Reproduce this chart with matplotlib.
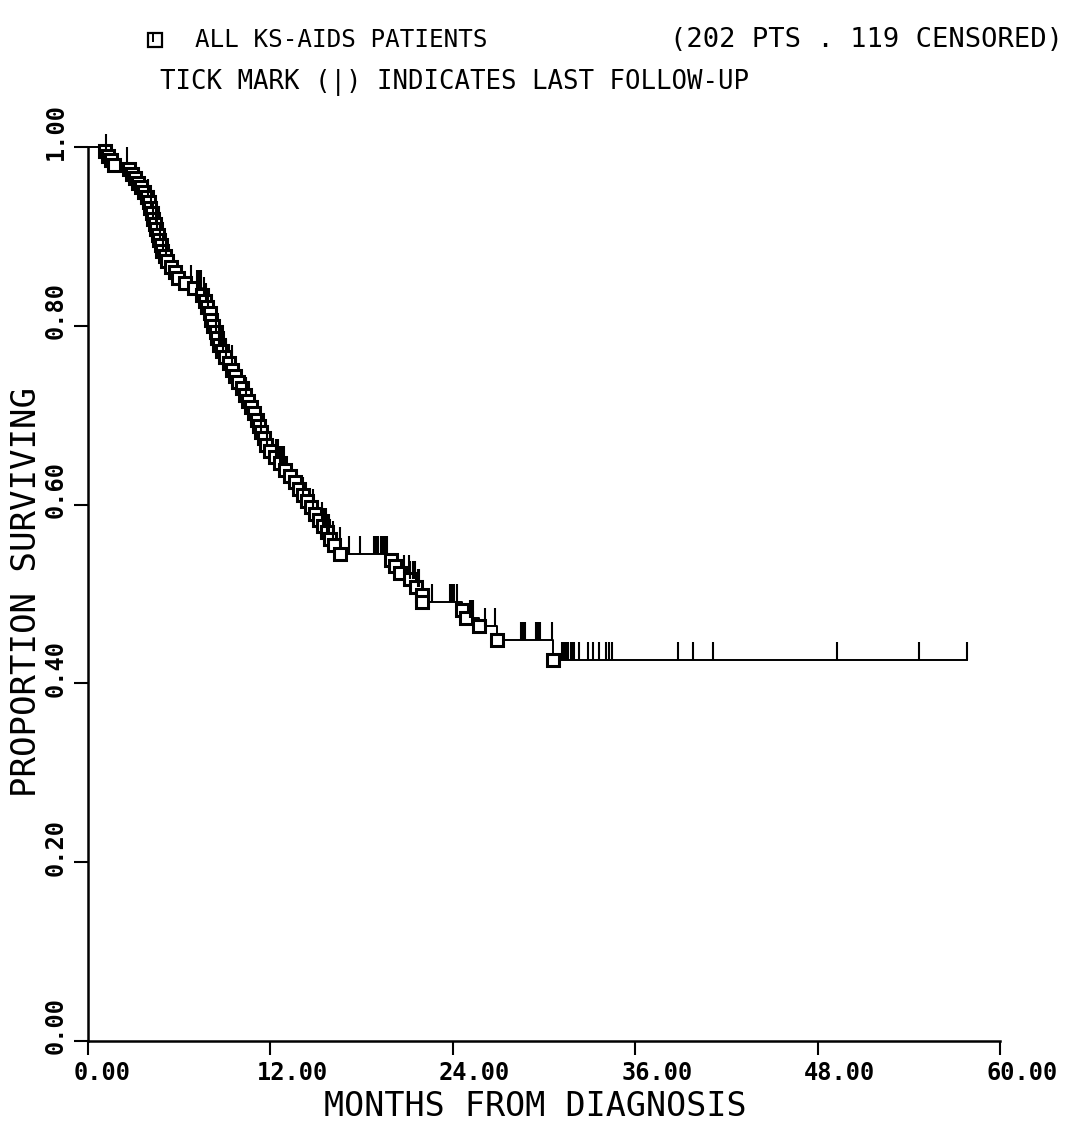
import numpy as np
import matplotlib
matplotlib.use("Agg")
import matplotlib.pyplot as plt
from matplotlib.lines import Line2D
from matplotlib.transforms import ScaledTranslation

# deaths: time (months) and survival just after each drop
death_t = [1.15, 1.3, 1.5, 1.7, 2.7, 2.9,
           3.1, 3.3, 3.5, 3.7, 3.85, 4.0, 4.1, 4.2, 4.3, 4.4, 4.5, 4.6, 4.7, 4.8, 4.9, 5.05, 5.2,
           5.45, 5.7, 5.95, 6.4, 7.0,
           7.5, 7.7, 7.85, 8.0, 8.1, 8.25, 8.4, 8.5, 8.6, 8.8, 9.0,
           9.3, 9.5, 9.7, 9.9, 10.1, 10.3, 10.5, 10.7, 10.9, 11.1, 11.25, 11.4, 11.55, 11.7, 11.95,
           12.3, 12.6, 12.95, 13.3, 13.6, 13.9, 14.15, 14.4, 14.7, 14.95, 15.2, 15.45, 15.7, 15.95, 16.2, 16.6,
           19.95, 20.2, 20.5, 21.2, 21.6, 21.95, 22.0,
           24.6, 24.9, 25.7, 26.9, 30.6]
surv = [0.995, 0.990, 0.985, 0.980, 0.975, 0.970,
        0.965, 0.960, 0.955, 0.950, 0.944, 0.938, 0.932, 0.926, 0.920, 0.914, 0.908, 0.902, 0.896, 0.890, 0.884, 0.878, 0.872,
        0.866, 0.860, 0.854, 0.848, 0.842,
        0.835, 0.828, 0.821, 0.814, 0.807, 0.800, 0.793, 0.786, 0.779, 0.772, 0.765,
        0.758, 0.751, 0.744, 0.737, 0.730, 0.723, 0.716, 0.709, 0.702, 0.695, 0.688, 0.681, 0.674, 0.667, 0.660,
        0.653, 0.646, 0.639, 0.632, 0.625, 0.618, 0.611, 0.604, 0.597, 0.590, 0.583, 0.576, 0.569, 0.562, 0.555, 0.545,
        0.538, 0.531, 0.524, 0.517, 0.508, 0.499, 0.491,
        0.482, 0.473, 0.464, 0.449, 0.426]

# censored (last follow-up) times
cens_t = [1.2, 2.55, 3.95, 4.15, 4.3, 4.45, 4.55, 4.75, 4.95, 5.1, 6.8, 7.2, 7.3, 7.45, 7.6, 7.75, 7.9,
          8.45, 8.65, 8.75, 8.9, 9.1, 9.45, 10.4, 11.4, 11.8, 12.4, 12.5, 12.6, 12.7, 12.8, 12.9,
          14.15, 14.8, 15.4, 15.45, 15.55, 15.65, 15.75, 15.85, 16.1, 16.55, 17.2, 17.9,
          18.8, 18.95, 19.1, 19.25, 19.4, 19.55, 19.7, 20.8, 21.1, 21.2, 21.4, 21.5, 21.7, 21.8,
          22.6, 23.8, 23.9, 24.0, 24.1, 24.3, 25.1, 25.2, 25.35, 26.1, 26.8,
          28.5, 28.6, 28.75, 29.5, 29.6, 29.75, 30.5, 31.2, 31.25, 31.35, 31.5, 31.6, 31.75, 31.85,
          32.0, 32.3, 32.9, 33.2, 33.6, 34.1, 34.3, 34.5, 38.8, 39.8, 41.1, 49.3, 54.7, 57.8]
end_t = 57.8

xticks = [0, 12, 24, 36, 48, 60]
xtick_labels = ["0.00", "12.00", "24.00", "36.00", "48.00", "60.00"]
yticks = [0.0, 0.2, 0.4, 0.6, 0.8, 1.0]
ytick_labels = ["0.00", "0.20", "0.40", "0.60", "0.80", "1.00"]

mono = ["DejaVu Sans Mono"]

fig = plt.figure(figsize=(10.7, 11.22), dpi=100)
ax = fig.add_axes([88/1070, 1 - 1041/1122, 912/1070, (1041 - 147)/1122])

t = np.r_[0, death_t, end_t]
s = np.r_[1.0, surv, surv[-1]]
ax.step(t, s, where="post", color="black", lw=1.4, clip_on=False, zorder=2)
ax.plot(death_t, surv, ls="none", marker="s", ms=8.5, mfc="white", mec="black", mew=2.2,
        clip_on=False, zorder=3)

levels = np.r_[1.0, surv]
cy = levels[np.searchsorted(death_t, cens_t, side="right")]
ax.vlines(cens_t, cy, cy + 0.02, color="black", lw=1.5, clip_on=False, zorder=4)

ax.set_xlim(0, 60)
ax.set_ylim(0, 1.0)
for sp in ["top", "right"]:
    ax.spines[sp].set_visible(False)
for sp in ["left", "bottom"]:
    ax.spines[sp].set_linewidth(1.8)
ax.set_xticks(xticks)
ax.set_yticks(yticks)
ax.tick_params(direction="out", length=10, width=1.5, labelbottom=False, labelleft=False)

off_x = ScaledTranslation(-14/100, -20/100, fig.dpi_scale_trans)
for v, lab in zip(xticks, xtick_labels):
    ax.text(v, 0, lab, transform=ax.get_xaxis_transform() + off_x, ha="left", va="top",
            fontsize=17, fontweight="bold", family=mono)
off_y = ScaledTranslation(-20/100, 15/100, fig.dpi_scale_trans)
for v, lab in zip(yticks, ytick_labels):
    ax.text(0, v, lab, transform=ax.get_yaxis_transform() + off_y, ha="right", va="center",
            rotation=90, fontsize=17, fontweight="bold", family=mono)

fig.text(0.5, 1 - 1106/1122, "MONTHS FROM DIAGNOSIS", ha="center", va="center",
         fontsize=24, family=mono)
fig.text(27/1070, 1 - 592/1122, "PROPORTION SURVIVING", ha="center", va="center",
         rotation=90, fontsize=24.5, family=mono)

# header
fig.add_artist(Line2D([155/1070], [1 - 40/1122], marker="s", ms=10, mfc="white", mec="black",
                      mew=1.6, transform=fig.transFigure))
fig.add_artist(Line2D([153/1070], [1 - 38/1122], marker="|", ms=6, mec="black",
                      mew=1.4, transform=fig.transFigure))
fig.text(195/1070, 1 - 40/1122, "ALL KS-AIDS PATIENTS", ha="left", va="center",
         fontsize=17.5, family=mono)
fig.text(1063/1070, 1 - 40/1122, "(202 PTS . 119 CENSORED)", ha="right", va="center",
         fontsize=19.5, family=mono)
fig.text(160/1070, 1 - 83/1122, "TICK MARK (|) INDICATES LAST FOLLOW-UP", ha="left", va="center",
         fontsize=18.5, family=mono)

fig.savefig("out.png", dpi=100)
